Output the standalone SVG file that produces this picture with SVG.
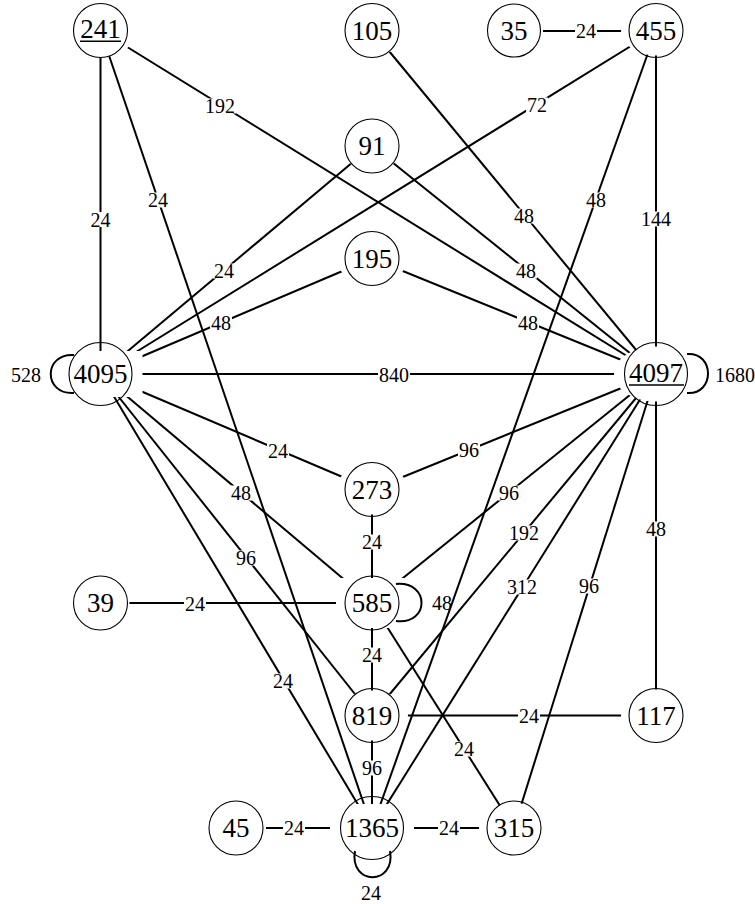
<svg xmlns="http://www.w3.org/2000/svg" width="755" height="904" viewBox="0 0 755 904">
<style>
 .node circle{fill:none;stroke:#000;stroke-width:1.1}
 .node text{font-size:27px;text-anchor:middle;fill:#000}
 .ul{stroke:#000;stroke-width:1.4}
 .edges line,.edges path{stroke:#000;stroke-width:2;fill:none}
 .lbl rect{fill:#fff}
 .lbl text{font-size:20px;text-anchor:middle;fill:#000}
</style>
<defs>
 <mask id="nodeclip" maskUnits="userSpaceOnUse" x="0" y="0" width="755" height="904">
  <rect x="0" y="0" width="755" height="904" fill="#fff"/>
  <g fill="#000">
   <ellipse cx="100.5" cy="30.5" rx="36" ry="26.5"/>
   <ellipse cx="372" cy="30.5" rx="36" ry="25"/>
   <ellipse cx="514" cy="31" rx="29" ry="25"/>
   <ellipse cx="656" cy="30.5" rx="35" ry="25"/>
   <ellipse cx="372" cy="146" rx="30" ry="25"/>
   <ellipse cx="372" cy="258.5" rx="36" ry="25"/>
   <rect x="58.5" y="351" width="84" height="46"/>
   <ellipse cx="656" cy="374" rx="42" ry="27.5"/>
   <ellipse cx="372" cy="489.5" rx="36" ry="25"/>
   <ellipse cx="100.5" cy="603" rx="29" ry="25"/>
   <rect x="336" y="578" width="72" height="50"/>
   <ellipse cx="372" cy="715.5" rx="36" ry="25"/>
   <ellipse cx="656" cy="715.5" rx="35" ry="26"/>
   <ellipse cx="236" cy="828" rx="30" ry="25"/>
   <rect x="330" y="804" width="84" height="48"/>
   <ellipse cx="514" cy="828" rx="35" ry="25"/>
  </g>
 </mask>
</defs>
<rect width="755" height="904" fill="#fff"/>
<g id="connectors" font-family="'Liberation Serif', 'Times New Roman', Times, serif">
 <g class="edges" mask="url(#nodeclip)">
  <line x1="100.5" y1="30.5" x2="100.5" y2="374"/>
  <line x1="100.5" y1="30.5" x2="372" y2="828"/>
  <line x1="100.5" y1="30.5" x2="656" y2="374"/>
  <line x1="372" y1="30.5" x2="656" y2="374"/>
  <line x1="514" y1="31" x2="656" y2="31"/>
  <line x1="656" y1="30.5" x2="100.5" y2="374"/>
  <line x1="656" y1="30.5" x2="372" y2="828"/>
  <line x1="656" y1="30.5" x2="656" y2="374"/>
  <line x1="372" y1="146" x2="100.5" y2="374"/>
  <line x1="372" y1="146" x2="656" y2="374"/>
  <line x1="372" y1="258.5" x2="100.5" y2="374"/>
  <line x1="372" y1="258.5" x2="656" y2="374"/>
  <line x1="100.5" y1="374" x2="656" y2="374"/>
  <line x1="100.5" y1="374" x2="372" y2="489.5"/>
  <line x1="656" y1="374" x2="372" y2="489.5"/>
  <line x1="100.5" y1="374" x2="372" y2="603"/>
  <line x1="656" y1="374" x2="372" y2="603"/>
  <line x1="100.5" y1="374" x2="372" y2="715.5"/>
  <line x1="656" y1="374" x2="372" y2="715.5"/>
  <line x1="100.5" y1="374" x2="372" y2="828"/>
  <line x1="656" y1="374" x2="372" y2="828"/>
  <line x1="656" y1="374" x2="514" y2="828"/>
  <line x1="656" y1="374" x2="656" y2="715.5"/>
  <line x1="372" y1="489.5" x2="372" y2="603"/>
  <line x1="100.5" y1="603" x2="372" y2="603"/>
  <line x1="372" y1="603" x2="372" y2="715.5"/>
  <line x1="372" y1="603" x2="514" y2="828"/>
  <line x1="372" y1="715.5" x2="656" y2="715.5"/>
  <line x1="372" y1="715.5" x2="372" y2="828"/>
  <line x1="236" y1="828" x2="372" y2="828"/>
  <line x1="372" y1="828" x2="514" y2="828"/>
 </g>
 <g class="edges">
  <path d="M74,355 C43,353 43,395 74,393"/>
  <path d="M687,354 C715,352 715,395 687,393"/>
  <path d="M396,584 C430,581 430,625 396,621"/>
  <path d="M355,851 C349,886 396,886 390,851"/>
 </g>
 <g id="edge-labels" class="lbl">
  <rect x="89.5" y="212" width="22" height="15"/><text x="100.5" y="226.5">24</text>
  <rect x="147" y="192.5" width="22" height="15"/><text x="158" y="207">24</text>
  <rect x="204" y="98.5" width="32" height="15"/><text x="220" y="113">192</text>
  <rect x="513" y="208.5" width="22" height="15"/><text x="524" y="223">48</text>
  <rect x="575" y="23.5" width="22" height="15"/><text x="586" y="38">24</text>
  <rect x="526" y="97.5" width="22" height="15"/><text x="537" y="112">72</text>
  <rect x="585" y="192.5" width="22" height="15"/><text x="596" y="207">48</text>
  <rect x="640" y="211.5" width="32" height="15"/><text x="656" y="226">144</text>
  <rect x="213" y="263.5" width="22" height="15"/><text x="224" y="278">24</text>
  <rect x="515" y="263.5" width="22" height="15"/><text x="526" y="278">48</text>
  <rect x="210" y="315.5" width="22" height="15"/><text x="221" y="330">48</text>
  <rect x="517" y="315.5" width="22" height="15"/><text x="528" y="330">48</text>
  <rect x="378" y="367.5" width="32" height="15"/><text x="394" y="382">840</text>
  <text x="26" y="382">528</text>
  <text x="735" y="382">1680</text>
  <rect x="267" y="443.5" width="22" height="15"/><text x="278" y="458">24</text>
  <rect x="458" y="442.5" width="22" height="15"/><text x="469" y="457">96</text>
  <rect x="230" y="485.5" width="22" height="15"/><text x="241" y="500">48</text>
  <rect x="498" y="485.5" width="22" height="15"/><text x="509" y="500">96</text>
  <rect x="235" y="550.5" width="22" height="15"/><text x="246" y="565">96</text>
  <rect x="508" y="525.5" width="32" height="15"/><text x="524" y="540">192</text>
  <rect x="272" y="673.5" width="22" height="15"/><text x="283" y="688">24</text>
  <rect x="506" y="579.5" width="32" height="15"/><text x="522" y="594">312</text>
  <rect x="578" y="578.5" width="22" height="15"/><text x="589" y="593">96</text>
  <rect x="645" y="521.5" width="22" height="15"/><text x="656" y="536">48</text>
  <rect x="361" y="534.5" width="22" height="15"/><text x="372" y="549">24</text>
  <rect x="184" y="596.5" width="22" height="15"/><text x="195" y="611">24</text>
  <text x="442" y="610">48</text>
  <rect x="361" y="647.5" width="22" height="15"/><text x="372" y="662">24</text>
  <rect x="453" y="741.5" width="22" height="15"/><text x="464" y="756">24</text>
  <rect x="518" y="708.5" width="22" height="15"/><text x="529" y="723">24</text>
  <rect x="361" y="760.5" width="22" height="15"/><text x="372" y="775">96</text>
  <rect x="283" y="820.5" width="22" height="15"/><text x="294" y="835">24</text>
  <rect x="438" y="820.5" width="22" height="15"/><text x="449" y="835">24</text>
  <text x="371" y="900">24</text>
 </g>
</g>
<g id="nodes" font-family="'Liberation Serif', 'Times New Roman', Times, serif">
<g id="n241" class="node"><circle cx="100.5" cy="30.5" r="27"/><text x="100.5" y="38">241</text><line class="ul" x1="80" y1="41.2" x2="121" y2="41.2"/></g>
<g id="n105" class="node"><circle cx="372" cy="30.5" r="27"/><text x="372" y="39.7">105</text></g>
<g id="n35" class="node"><circle cx="514" cy="30.5" r="26.5"/><text x="514" y="39.7">35</text></g>
<g id="n455" class="node"><circle cx="656" cy="30.5" r="27"/><text x="656" y="39.7">455</text></g>
<g id="n91" class="node"><circle cx="372" cy="146" r="27"/><text x="372" y="155.2">91</text></g>
<g id="n195" class="node"><circle cx="372" cy="258.5" r="27"/><text x="372" y="267.7">195</text></g>
<g id="n4095" class="node"><circle cx="100.5" cy="374" r="31.5"/><text x="100.5" y="383.2">4095</text></g>
<g id="n4097" class="node"><circle cx="656" cy="374" r="31.5"/><text x="656" y="381.5">4097</text><line class="ul" x1="629" y1="385" x2="684" y2="385"/></g>
<g id="n273" class="node"><circle cx="372" cy="489.5" r="27"/><text x="372" y="498.7">273</text></g>
<g id="n39" class="node"><circle cx="100.5" cy="603" r="27"/><text x="100.5" y="612.2">39</text></g>
<g id="n585" class="node"><circle cx="372" cy="603" r="27"/><text x="372" y="612.2">585</text></g>
<g id="n819" class="node"><circle cx="372" cy="715.5" r="27"/><text x="372" y="724.7">819</text></g>
<g id="n117" class="node"><circle cx="656" cy="715.5" r="27"/><text x="656" y="724.7">117</text></g>
<g id="n45" class="node"><circle cx="236" cy="828" r="27"/><text x="236" y="837.2">45</text></g>
<g id="n1365" class="node"><circle cx="372" cy="828" r="31.5"/><text x="372" y="837.2">1365</text></g>
<g id="n315" class="node"><circle cx="514" cy="828" r="27"/><text x="514" y="837.2">315</text></g>
</g>
</svg>
